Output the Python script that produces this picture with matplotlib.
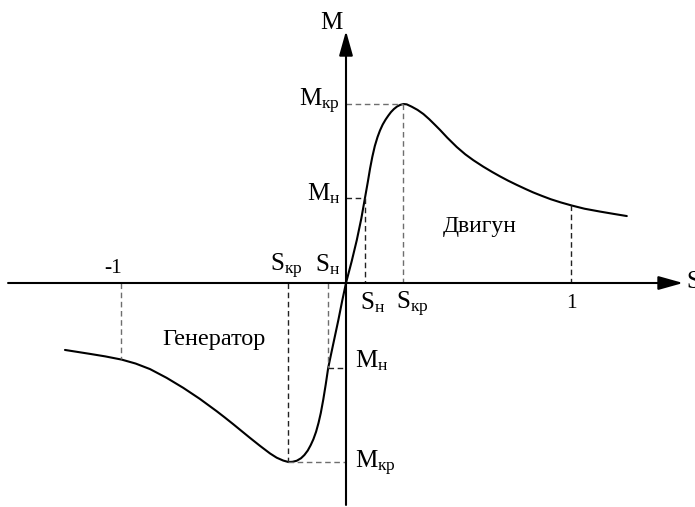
import matplotlib
matplotlib.use("Agg")
import matplotlib.pyplot as plt

plt.rcParams['font.family'] = ['Liberation Serif', 'DejaVu Serif']
plt.rcParams['mathtext.fontset'] = 'custom'
plt.rcParams['mathtext.rm'] = 'Liberation Serif'
plt.rcParams['mathtext.it'] = 'Liberation Serif:italic'

# torque-slip curve (slip S, torque M normalised to M_kr)
s_curve = [-1.249, -1.138, -1.070, -0.997, -0.935, -0.871, -0.797, -0.723, -0.650,
           -0.575, -0.540, -0.501, -0.465, -0.427, -0.382, -0.338, -0.308, -0.279,
           -0.256, -0.238, -0.219, -0.200, -0.185, -0.170, -0.157, -0.145, -0.133,
           -0.122, -0.112, -0.101, -0.090, -0.079, -0.060, -0.034, -0.017, 0.0,
           0.025, 0.048, 0.068, 0.084, 0.097, 0.107, 0.117, 0.128, 0.140, 0.151,
           0.163, 0.176, 0.188, 0.200, 0.213, 0.227, 0.241, 0.255, 0.270, 0.292,
           0.318, 0.344, 0.370, 0.395, 0.418, 0.450, 0.492, 0.530, 0.566, 0.610,
           0.650, 0.684, 0.720, 0.759, 0.800, 0.832, 0.870, 0.910, 0.955, 1.003,
           1.060, 1.129, 1.190, 1.248]
m_curve = [-0.374, -0.396, -0.410, -0.428, -0.450, -0.481, -0.530, -0.586, -0.647,
           -0.716, -0.750, -0.789, -0.826, -0.865, -0.910, -0.952, -0.976, -0.992,
           -1.000, -0.999, -0.993, -0.979, -0.961, -0.936, -0.906, -0.873, -0.831,
           -0.781, -0.726, -0.651, -0.566, -0.473, -0.360, -0.207, -0.100, 0.0,
           0.120, 0.240, 0.360, 0.473, 0.565, 0.640, 0.705, 0.765, 0.815, 0.852,
           0.885, 0.913, 0.935, 0.955, 0.972, 0.986, 0.995, 1.000, 0.998, 0.985,
           0.967, 0.944, 0.915, 0.884, 0.855, 0.812, 0.760, 0.719, 0.686, 0.650,
           0.620, 0.596, 0.572, 0.548, 0.524, 0.506, 0.487, 0.468, 0.450, 0.433,
           0.415, 0.399, 0.386, 0.374]

# key points
s_kr_mot, m_kr_mot = 0.255, 1.0
s_n_mot, m_n_mot = 0.084, 0.473
s_one, m_at_one = 1.0, 0.434
s_kr_gen, m_kr_gen = -0.256, -1.0
s_n_gen, m_n_gen = -0.079, -0.473
s_mone, m_at_mone = -1.0, -0.427

fig = plt.figure(figsize=(6.95, 5.07), dpi=100)
ax = fig.add_axes([0, 0, 1, 1])
ax.set_xlim(-1.5378, 1.5511)
ax.set_ylim(-1.2514, 1.581)
ax.axis('off')

# axes with arrows
arrow = dict(arrowstyle='-|>,head_length=1.5,head_width=0.42',
             mutation_scale=10, lw=1.5, color='black', shrinkA=0, shrinkB=0)
ax.annotate('', xy=(1.498, 0), xytext=(-1.502, 0), arrowprops=arrow)
ax.annotate('', xy=(0, 1.408), xytext=(0, -1.240), arrowprops=arrow)

# curve
ax.plot(s_curve, m_curve, color='black', lw=1.5,
        solid_joinstyle='round', solid_capstyle='round')

gray = '#6e6e6e'
dk = '#222222'
dash = dict(lw=1.0, dashes=(4, 2.6))
# motor side
ax.plot([0, s_kr_mot], [m_kr_mot, m_kr_mot], color=gray, **dash)
ax.plot([s_kr_mot, s_kr_mot], [m_kr_mot, 0], color=gray, **dash)
ax.plot([0, s_n_mot], [m_n_mot, m_n_mot], color=dk, **dash)
ax.plot([s_n_mot, s_n_mot], [m_n_mot, 0], color=dk, **dash)
ax.plot([s_one, s_one], [m_at_one, 0], color=dk, **dash)
# generator side
ax.plot([s_mone, s_mone], [0, m_at_mone], color=gray, **dash)
ax.plot([s_kr_gen, s_kr_gen], [0, m_kr_gen], color=dk, **dash)
ax.plot([s_kr_gen, 0], [m_kr_gen, m_kr_gen], color=gray, **dash)
ax.plot([s_n_gen, s_n_gen], [0, m_n_gen], color=gray, **dash)
ax.plot([s_n_gen, 0], [m_n_gen, m_n_gen], color=dk, **dash)

fs = 18
def lab(txt, x, y, dx, dy, ha, size=fs):
    ax.annotate(txt, xy=(x, y), xytext=(dx, dy), textcoords='offset pixels',
                ha=ha, va='baseline', fontsize=size)

lab(r'M$_{\mathrm{кр}}$', 0, m_kr_mot, -6, -2, 'right')
lab(r'M$_{\mathrm{н}}$', 0, m_n_mot, -6, -2, 'right')
lab(r'M$_{\mathrm{н}}$', 0, m_n_gen, 9, 0, 'left')
lab(r'M$_{\mathrm{кр}}$', 0, m_kr_gen, 9, -6, 'left')
lab(r'S$_{\mathrm{кр}}$', s_kr_gen, 0, -2, 12, 'center')
lab(r'S$_{\mathrm{н}}$', s_n_gen, 0, -1, 12, 'center')
lab(r'S$_{\mathrm{н}}$', s_n_mot, 0, 8, -26, 'center')
lab(r'S$_{\mathrm{кр}}$', s_kr_mot, 0, 9, -26, 'center')
lab('-1', s_mone, 0, 1, 10, 'right', 15.5)
lab('1', s_one, 0, 0, -25, 'center', 15.5)
lab('M', 0, 1.408, -3, 2, 'right')
lab('S', 1.498, 0, 3, -5, 'left')

ax.text(0.596, 0.283, 'Двигун', ha='center', va='baseline', fontsize=17)
ax.text(-0.587, -0.345, 'Генератор', ha='center', va='baseline', fontsize=17.5)

fig.savefig('out.png', dpi=100)
